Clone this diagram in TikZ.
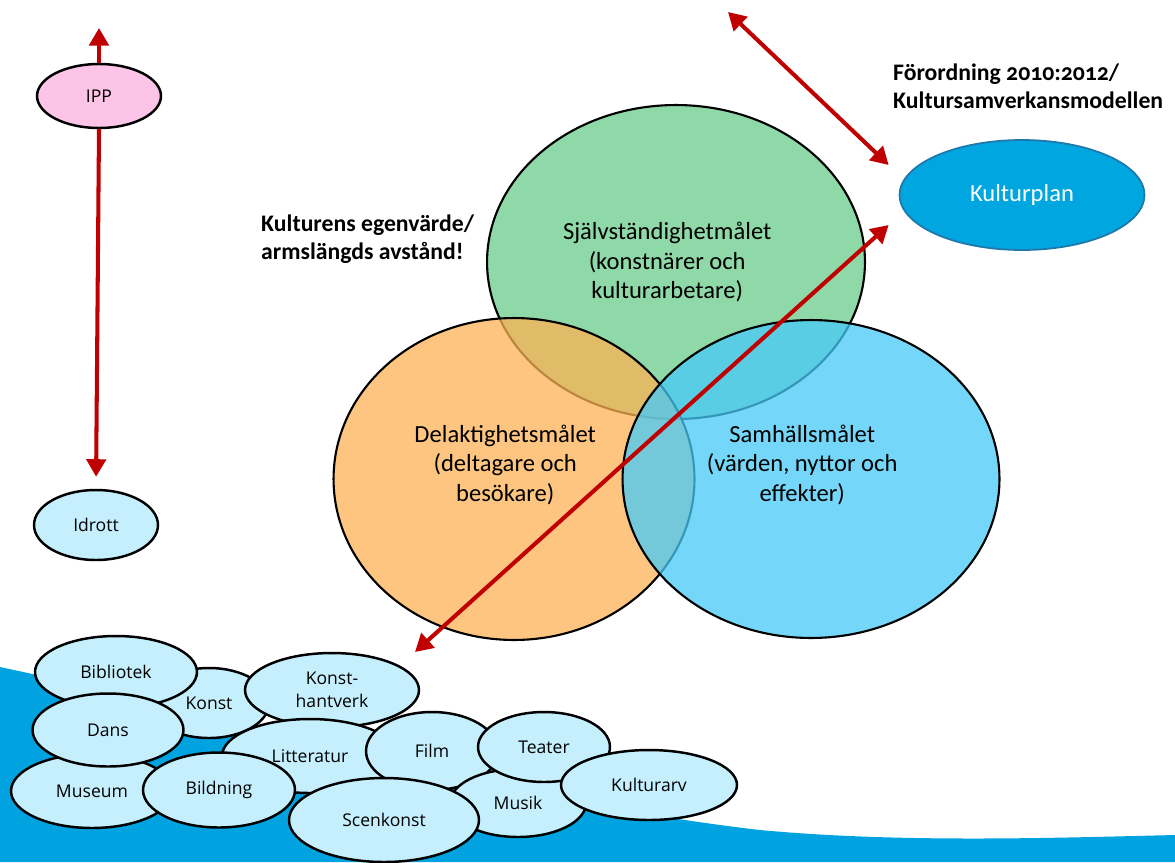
\documentclass[tikz,border=0pt]{standalone}
\usepackage{fontspec}
\setmainfont{Carlito}[Numbers=OldStyle]
\newfontfamily\smallfont{Open Sans}
\usetikzlibrary{shapes.geometric, arrows.meta, positioning, calc}

\definecolor{arrowred}{RGB}{192,0,0}
\definecolor{goalgreen}{RGB}{106,204,139}
\definecolor{goalorange}{RGB}{252,178,84}
\definecolor{goalblue}{RGB}{70,202,247}
\definecolor{areablue}{RGB}{197,239,253}
\definecolor{ipppink}{RGB}{252,196,230}
\definecolor{planblue}{RGB}{0,166,224}
\definecolor{planedge}{RGB}{30,120,170}
\definecolor{wavecolor}{RGB}{0,163,224}

\begin{document}
\begin{tikzpicture}[x=0.02cm, y=-0.02cm,
		goalnode/.style={draw=black, line width=1.2pt, ellipse, inner sep=0pt, fill opacity=0.75, draw opacity=1},
		goaltext/.style={align=center, font=\fontsize{14}{17}\selectfont},
		areanode/.style={draw=black, line width=1.4pt, ellipse, inner sep=0pt, fill=areablue, align=center, font=\smallfont\fontsize{10}{13}\selectfont},
		headline/.style={anchor=west, align=left, font=\bfseries\fontsize{13.5}{16}\selectfont},
		arrow/.style={-{Triangle[length=10pt, width=11pt]}, line width=2.3pt, arrowred},
		dblarrow/.style={{Triangle[length=10pt, width=11pt]}-{Triangle[length=10pt, width=11pt]}, line width=2.3pt, arrowred}
		]
		\useasboundingbox (0,0) rectangle (1175,862);
		
		% ----- Background wave -----
		\fill[wavecolor] (0,667) .. controls (250,720) and (500,800) .. (760,830) .. controls (900,843) and (1050,838) .. (1175,835) -- (1175,862) -- (0,862) -- cycle;
		
		% ----- IPP / Idrott -----
		\node[areanode, fill=ipppink, minimum width=2.48cm, minimum height=1.28cm] (ipp) at (99,96) {IPP};
		\node[areanode, minimum width=2.48cm, minimum height=1.4cm] (idrott) at (96,525) {Idrott};
		\coordinate (ipptop) at (99,28);
		\draw[arrow] (ipp.north) -- (ipptop);
		\draw[arrow, shorten >=0.24cm] (ipp.south) -- (idrott.north);
		
		% ----- Three goals -----
		\node[goalnode, fill=goalgreen, minimum width=7.56cm, minimum height=6.28cm,
			label={[goaltext, xshift=-5pt]center:Självständighetmålet\\(konstnärer och\\kulturarbetare)}] (egen) at (676,262) {};
		\node[goalnode, fill=goalorange, minimum width=7.22cm, minimum height=6.44cm,
			label={[goaltext, xshift=-5pt, yshift=8pt]center:Delaktighetsmålet\\(deltagare och\\besökare)}] (delakt) at (514,479) {};
		\node[goalnode, fill=goalblue, minimum width=7.54cm, minimum height=6.36cm,
			label={[goaltext, xshift=-5pt, yshift=8pt]center:Samhällsmålet\\(värden, nyttor och\\effekter)}] (samh) at (811,479) {};
		
		\node[headline] (egenvarde) at (255,239) {Kulturens egenvärde/\\armslängds avstånd!};
		
		% ----- Kulturplan -----
		\node[ellipse, draw=planedge, line width=1pt, fill=planblue, inner sep=0pt, minimum width=4.9cm, minimum height=2.2cm, text=white, font=\fontsize{14}{17}\selectfont] (kulturplan) at (1022,195) {Kulturplan};
		\node[headline] (forordning) at (887,86) {Förordning 2010:2012/\\Kultursamverkansmodellen};
		
		% ----- Culture areas -----
		\node[areanode, minimum width=2.4cm, minimum height=1.4cm] (konst) at (209,703) {Konst};
		\node[areanode, minimum width=3.24cm, minimum height=1.44cm] (bibliotek) at (116,672) {Bibliotek};
		\node[areanode, minimum width=3.24cm, minimum height=1.48cm] (museum) at (92,791) {Museum};
		\node[areanode, minimum width=3.02cm, minimum height=1.46cm] (dans) at (108,730) {Dans};
		\node[areanode, minimum width=3.48cm, minimum height=1.48cm] (konsthantverk) at (332,690) {Konst-\\hantverk};
		\node[areanode, minimum width=3.52cm, minimum height=1.48cm] (litteratur) at (310,756) {Litteratur};
		\node[areanode, minimum width=3.04cm, minimum height=1.5cm] (bildning) at (219,790) {Bildning};
		\node[areanode, minimum width=2.64cm, minimum height=1.56cm] (film) at (432,751) {Film};
		\node[areanode, minimum width=2.72cm, minimum height=1.36cm] (musik) at (518,803) {Musik};
		\node[areanode, minimum width=2.64cm, minimum height=1.4cm] (teater) at (544,747) {Teater};
		\node[areanode, minimum width=3.8cm, minimum height=1.68cm] (scenkonst) at (384,820) {Scenkonst};
		\node[areanode, minimum width=3.52cm, minimum height=1.4cm] (kulturarv) at (649,785) {Kulturarv};
		
		% ----- Links to Kulturplan -----
		\coordinate (planlow) at ([shift={(-10,30)}]kulturplan.west);
		\coordinate (planhigh) at ([shift={(-10,-30)}]kulturplan.west);
		\coordinate (areas) at (415,652);
		\coordinate (topend) at (728,12);
		\draw[dblarrow] (areas) -- (planlow);
		\draw[dblarrow] (topend) -- (planhigh);
		
	\end{tikzpicture}
\end{document}
